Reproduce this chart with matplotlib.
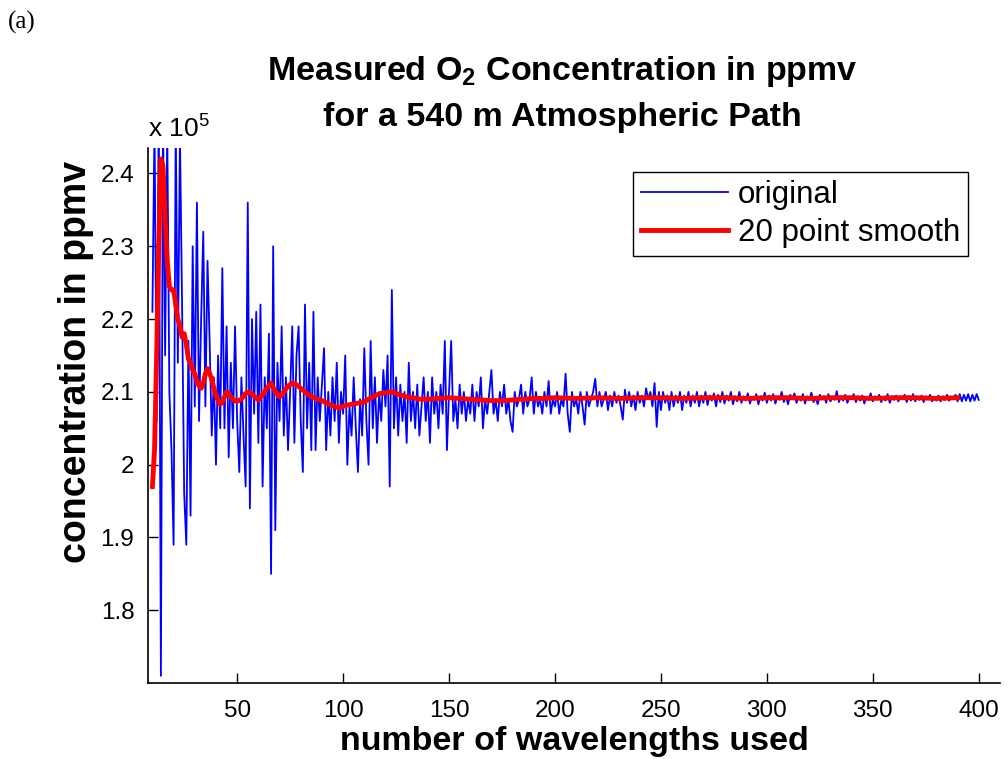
import numpy as np
import matplotlib
matplotlib.use("Agg")
import matplotlib.pyplot as plt

plt.rcParams['font.family'] = ['Liberation Sans', 'DejaVu Sans']
plt.rcParams['mathtext.fontset'] = 'custom'
plt.rcParams['mathtext.rm'] = 'Liberation Sans'
plt.rcParams['mathtext.bf'] = 'Liberation Sans:bold'

# O2 concentration (units of 1e5 ppmv) for 10 ... 400 wavelengths
original = [
    2.21, 2.47, 2.06, 2.50, 1.71, 2.48, 2.15, 2.46, 2.10, 2.02,
    1.89, 2.47, 2.14, 2.45, 2.22, 1.96, 1.89, 2.17, 1.93, 2.30,
    2.08, 2.36, 2.06, 2.20, 2.32, 2.08, 2.28, 2.17, 2.04, 2.12,
    2.00, 2.15, 2.05, 2.27, 2.05, 2.19, 2.01, 2.14, 2.05, 2.19,
    2.06, 1.99, 2.12, 2.04, 1.97, 2.36, 1.94, 2.20, 2.07, 2.21,
    2.03, 2.22, 1.97, 2.12, 2.05, 2.18, 1.85, 2.30, 1.91, 2.14,
    2.06, 2.19, 2.04, 2.12, 2.02, 2.10, 2.19, 2.03, 2.15, 2.19,
    2.06, 1.99, 2.22, 2.05, 2.14, 2.02, 2.21, 2.02, 2.12, 2.06,
    2.11, 2.16, 2.02, 2.10, 2.04, 2.12, 2.06, 2.14, 2.03, 2.10,
    2.07, 2.15, 2.00, 2.08, 2.04, 2.12, 2.05, 1.99, 2.09, 2.04,
    2.16, 2.06, 2.00, 2.17, 2.05, 2.12, 2.03, 2.10, 2.06, 2.13,
    2.08, 2.15, 1.97, 2.24, 2.05, 2.12, 2.04, 2.11, 2.06, 2.10,
    2.03, 2.14, 2.06, 2.10, 2.05, 2.11, 2.04, 2.08, 2.12, 2.06,
    2.10, 2.03, 2.12, 2.07, 2.10, 2.05, 2.11, 2.07, 2.17, 2.02,
    2.10, 2.17, 2.06, 2.09, 2.05, 2.11, 2.07, 2.10, 2.06, 2.09,
    2.07, 2.11, 2.06, 2.10, 2.08, 2.12, 2.05, 2.09, 2.07, 2.10,
    2.13, 2.07, 2.09, 2.06, 2.10, 2.08, 2.11, 2.07, 2.09, 2.06,
    2.045, 2.10, 2.08, 2.09, 2.11, 2.07, 2.10, 2.08, 2.09, 2.12,
    2.07, 2.10, 2.08, 2.09, 2.07, 2.10, 2.08, 2.115, 2.07, 2.09,
    2.08, 2.10, 2.07, 2.09, 2.08, 2.125, 2.07, 2.045, 2.10, 2.08,
    2.09, 2.07, 2.10, 2.08, 2.055, 2.10, 2.08, 2.09, 2.10, 2.118,
    2.08, 2.10, 2.08, 2.09, 2.10, 2.075, 2.095, 2.08, 2.10, 2.085,
    2.095, 2.08, 2.062, 2.103, 2.085, 2.10, 2.08, 2.095, 2.075, 2.10,
    2.085, 2.095, 2.08, 2.105, 2.09, 2.10, 2.08, 2.112, 2.052, 2.10,
    2.075, 2.10, 2.085, 2.095, 2.075, 2.10, 2.08, 2.095, 2.085, 2.10,
    2.075, 2.095, 2.085, 2.10, 2.08, 2.095, 2.085, 2.10, 2.08, 2.095,
    2.085, 2.10, 2.082, 2.095, 2.088, 2.098, 2.08, 2.096, 2.086, 2.10,
    2.084, 2.095, 2.088, 2.10, 2.083, 2.094, 2.087, 2.10, 2.085, 2.094,
    2.088, 2.098, 2.084, 2.093, 2.089, 2.097, 2.083, 2.094, 2.088, 2.099,
    2.085, 2.095, 2.088, 2.097, 2.084, 2.093, 2.089, 2.10, 2.086, 2.094,
    2.083, 2.096, 2.09, 2.098, 2.085, 2.093, 2.088, 2.097, 2.084, 2.094,
    2.089, 2.099, 2.086, 2.092, 2.083, 2.096, 2.09, 2.094, 2.085, 2.097,
    2.087, 2.093, 2.089, 2.101, 2.086, 2.094, 2.088, 2.096, 2.085, 2.093,
    2.09, 2.097, 2.086, 2.094, 2.088, 2.095, 2.084, 2.093, 2.089, 2.098,
    2.087, 2.094, 2.09, 2.096, 2.086, 2.093, 2.088, 2.097, 2.085, 2.094,
    2.089, 2.095, 2.087, 2.093, 2.09, 2.096, 2.086, 2.094, 2.088, 2.097,
    2.087, 2.093, 2.089, 2.095, 2.086, 2.094, 2.09, 2.096, 2.087, 2.093,
    2.088, 2.095, 2.087, 2.094, 2.089, 2.096, 2.088, 2.093, 2.09, 2.096,
    2.087, 2.097, 2.087, 2.096, 2.088, 2.097, 2.087, 2.096, 2.088, 2.097,
    2.089,
]
n_wavelengths = np.arange(10, 10 + len(original))

# 20 point smoothed curve
smooth_x = [10, 11, 12, 13, 14, 15, 16, 17, 18, 19, 20, 21, 22, 23, 24, 25,
            26, 27, 28, 29, 30, 31, 32, 33, 34, 35, 36, 37, 38, 39, 40, 41,
            42, 43, 44, 45, 46, 47, 48, 49, 50, 52, 54, 56, 58, 60, 62, 64,
            66, 68, 70, 72, 74, 76, 78, 80, 82, 84, 86, 88, 90, 92, 94, 96,
            98, 100, 102, 104, 106, 108, 110, 112, 114, 116, 118, 120, 122,
            124, 126, 128, 130, 133, 136, 140, 145, 150, 155, 160, 165, 170,
            175, 180, 185, 190, 195, 200, 210, 220, 230, 240, 250, 260, 270,
            280, 290, 300, 310, 320, 330, 340, 350, 360, 370, 380, 390]
smooth_y = [1.97, 2.02, 2.15, 2.30, 2.42, 2.41, 2.34, 2.28, 2.245, 2.24,
            2.24, 2.22, 2.20, 2.19, 2.175, 2.18, 2.165, 2.145, 2.14, 2.13,
            2.125, 2.115, 2.108, 2.105, 2.112, 2.125, 2.132, 2.125, 2.118,
            2.105, 2.095, 2.088, 2.083, 2.086, 2.093, 2.10, 2.098, 2.093,
            2.09, 2.088, 2.087, 2.09, 2.098, 2.10, 2.094, 2.089, 2.096, 2.105,
            2.112, 2.10, 2.093, 2.10, 2.108, 2.112, 2.11, 2.105, 2.10, 2.095,
            2.092, 2.09, 2.088, 2.085, 2.082, 2.08, 2.078, 2.08, 2.082, 2.083,
            2.084, 2.085, 2.086, 2.09, 2.093, 2.096, 2.098, 2.099, 2.10,
            2.099, 2.097, 2.095, 2.093, 2.092, 2.09, 2.09, 2.091, 2.092,
            2.091, 2.09, 2.089, 2.088, 2.088, 2.089, 2.09, 2.091, 2.091,
            2.092, 2.091, 2.092, 2.091, 2.092, 2.092, 2.091, 2.092, 2.092,
            2.091, 2.092, 2.092, 2.091, 2.092, 2.092, 2.091, 2.092, 2.092,
            2.091, 2.092]

x_ticks = [50, 100, 150, 200, 250, 300, 350, 400]
y_ticks = [1.8, 1.9, 2.0, 2.1, 2.2, 2.3, 2.4]
y_tick_labels = ['1.8', '1.9', '2', '2.1', '2.2', '2.3', '2.4']

fig = plt.figure(figsize=(10.08, 7.59), dpi=100)
ax = fig.add_axes([0.147, 0.10, 0.845, 0.705])

ax.plot(n_wavelengths, original, color=(0, 0, 1), lw=1.3, label='original')
ax.plot(smooth_x, smooth_y, color=(1, 0, 0), lw=3.5, label='20 point smooth')

ax.set_xlim(8, 410)
ax.set_ylim(1.70, 2.435)
ax.set_xticks(x_ticks)
ax.set_yticks(y_ticks)
ax.set_yticklabels(y_tick_labels)
ax.tick_params(direction='in', length=7, width=1, labelsize=17.5)
ax.tick_params(axis='x', pad=12)
ax.tick_params(axis='y', pad=10)
ax.spines['top'].set_visible(False)
ax.spines['right'].set_visible(False)
ax.spines['left'].set_linewidth(1.2)
ax.spines['bottom'].set_linewidth(1.2)

ax.set_xlabel('number of wavelengths used', fontsize=24.5, fontweight='bold', labelpad=3)
ax.set_ylabel('concentration in ppmv', fontsize=27, fontweight='bold')
ax.yaxis.set_label_coords(-0.064, 0.60)
ax.set_title('Measured O$_\\mathbf{2}$ Concentration in ppmv\nfor a 540 m Atmospheric Path',
             fontsize=24.5, fontweight='bold', pad=16, linespacing=1.55, x=0.486)

ax.text(0.0, 1.012, 'x 10$^5$', transform=ax.transAxes, fontsize=19,
        ha='left', va='bottom')

leg = ax.legend(loc='upper right', bbox_to_anchor=(0.962, 0.955),
                borderaxespad=0, fontsize=22.5, fancybox=False,
                edgecolor='black', framealpha=1, handlelength=2.8,
                borderpad=0.25, labelspacing=0.25, handletextpad=0.3)
leg.get_frame().set_linewidth(1.0)

fig.text(0.008, 0.985, '(a)', fontsize=18, family='Liberation Serif',
         ha='left', va='top')

fig.savefig('out.png', dpi=100)
